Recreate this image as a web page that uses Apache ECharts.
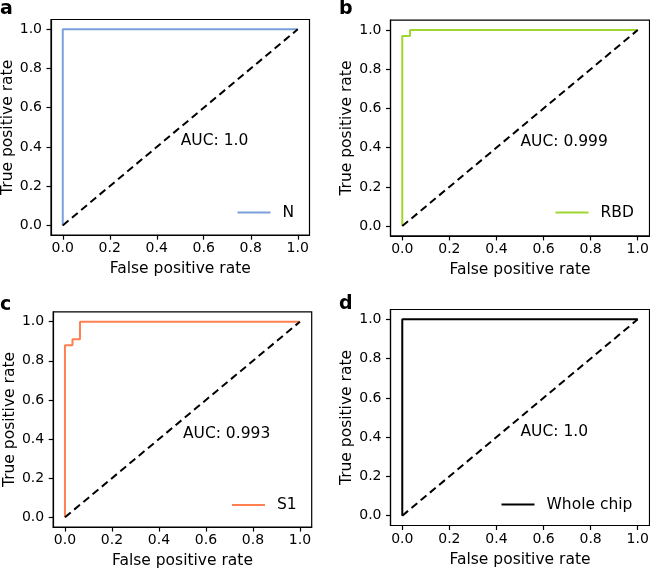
<!DOCTYPE html>
<html><head><meta charset="utf-8">
<script src="https://cdn.jsdelivr.net/npm/echarts@6/dist/echarts.min.js"></script>
<style>html,body{margin:0;padding:0;background:#fff}#c{width:650px;height:570px}</style>
</head><body><div id="c"></div>
<script>
// ---- data ----
var panelLetters = ['a', 'b', 'c', 'd'];
var seriesNames = ['N', 'RBD', 'S1', 'Whole chip'];
var aucTexts = ['AUC: 1.0', 'AUC: 0.999', 'AUC: 0.993', 'AUC: 1.0'];
var rocN = [[0, 0], [0, 1], [1, 1]];
var rocRBD = [[0, 0], [0, 0.97], [0.033, 0.97], [0.033, 1], [1, 1]];
var rocS1 = [[0, 0], [0, 0.88], [0.032, 0.88], [0.032, 0.91], [0.064, 0.91], [0.064, 1], [1, 1]];
var rocWhole = [[0, 0], [0, 1], [1, 1]];
var chanceLine = [[0, 0], [1, 1]];
var aucPos = [0.5, 0.4];
var tickValues = [0, 0.2, 0.4, 0.6, 0.8, 1.0];
var xTitle = 'False positive rate';
var yTitle = 'True positive rate';

// ---- layout / style ----
var rocs = [rocN, rocRBD, rocS1, rocWhole];
var colors = ['#7aa0dc', '#9fd630', '#ff7f50', '#000000'];
var grids = [
  {left: 51, top: 19.5, width: 258.5, height: 215.7},
  {left: 390.5, top: 20.2, width: 259, height: 215.7},
  {left: 53.2, top: 311.9, width: 258.5, height: 215.2},
  {left: 390.5, top: 309.5, width: 259, height: 216}
];
var letterPos = [[0, 0], [339, 0], [0, 296], [339, 295]];
var legendPos = [[237.5, 204.5], [555.5, 204.5], [232, 497], [501.5, 496.5]];
var FONT = 'DejaVu Sans';

var option = {
  animation: false,
  backgroundColor: '#fff',
  grid: [], xAxis: [], yAxis: [], series: [], legend: [], graphic: []
};

function fmt(v) { return v.toFixed(1); }

grids.forEach(function (g, i) {
  option.grid.push({
    left: g.left, top: g.top, width: g.width, height: g.height,
    show: true, borderColor: '#000', borderWidth: 1.2, backgroundColor: 'transparent',
    outerBoundsMode: 'none', containLabel: false
  });
  option.xAxis.push({
    type: 'value', gridIndex: i, min: -0.05, max: 1.05,
    name: xTitle, nameLocation: 'middle', nameGap: 26,
    nameTextStyle: {fontFamily: FONT, fontSize: 15.5, color: '#000'},
    axisLine: {show: true, onZero: false, lineStyle: {color: '#000', width: 1.2}},
    axisTick: {show: true, length: 4.5, lineStyle: {color: '#000', width: 1.2}, customValues: tickValues},
    axisLabel: {fontFamily: FONT, fontSize: 14, color: '#000', margin: 6.5, formatter: fmt, customValues: tickValues},
    splitLine: {show: false}
  });
  option.yAxis.push({
    type: 'value', gridIndex: i, min: -0.05, max: 1.05,
    name: yTitle, nameLocation: 'middle', nameGap: 35, nameRotate: 90,
    nameTextStyle: {fontFamily: FONT, fontSize: 15.5, color: '#000'},
    axisLine: {show: true, onZero: false, lineStyle: {color: '#000', width: 1.2}},
    axisTick: {show: true, length: 4.5, lineStyle: {color: '#000', width: 1.2}, customValues: tickValues},
    axisLabel: {fontFamily: FONT, fontSize: 14, color: '#000', margin: 9, formatter: fmt, customValues: tickValues},
    splitLine: {show: false}
  });
  option.series.push({
    type: 'line', name: seriesNames[i], xAxisIndex: i, yAxisIndex: i,
    data: rocs[i], showSymbol: false, symbol: 'none', color: colors[i],
    lineStyle: {color: colors[i], width: 2}, z: 3
  });
  option.series.push({
    type: 'line', name: 'chance' + i, xAxisIndex: i, yAxisIndex: i,
    data: chanceLine, showSymbol: false, symbol: 'none',
    lineStyle: {color: '#000', width: 2, type: [7.5, 4.5]}, z: 4
  });
  option.series.push({
    type: 'scatter', name: 'auc' + i, xAxisIndex: i, yAxisIndex: i,
    data: [aucPos], symbolSize: 1, silent: true,
    itemStyle: {color: 'rgba(0,0,0,0)'},
    label: {show: true, position: 'right', distance: 0, offset: [0, -5.5],
      formatter: aucTexts[i], fontFamily: FONT, fontSize: 15.5, color: '#000',
      textBorderWidth: 0, opacity: 1}
  });
  option.legend.push({
    data: [{name: seriesNames[i], icon: 'rect'}],
    left: legendPos[i][0], top: legendPos[i][1], orient: 'vertical',
    itemWidth: 33, itemHeight: 2, padding: 0,
    textStyle: {fontFamily: FONT, fontSize: 15.5, color: '#000', padding: [0, 0, 0, 7]},
    selectedMode: false
  });
  option.graphic.push({
    type: 'text', left: letterPos[i][0], top: letterPos[i][1],
    style: {text: panelLetters[i], font: 'bold 19px "DejaVu Sans"', fill: '#000'}
  });
});

var chart = echarts.init(document.getElementById('c'), null, {renderer: 'canvas'});
chart.setOption(option);
</script>
</body></html>
